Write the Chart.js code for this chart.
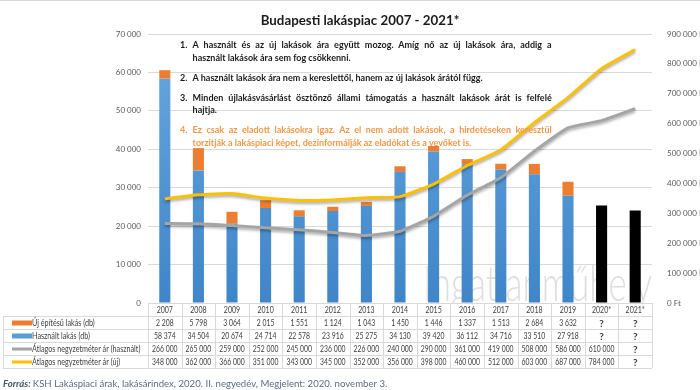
<!DOCTYPE html>
<html lang="hu">
<head>
<meta charset="utf-8">
<title>Budapesti lakáspiac 2007 - 2021*</title>
<script src="https://cdn.jsdelivr.net/npm/chart.js@4.4.1/dist/chart.umd.min.js"></script>
<style>
  body { margin: 0; background: #fff; }
  #wrap { position: relative; width: 700px; height: 390px; }
  #notes {
    position: absolute; left: 180px; top: 38px; width: 413px;
    transform: scaleX(0.9); transform-origin: 0 0;
    font: bold 10px Lato, sans-serif; color: #1a1a1a; line-height: 12.5px;
  }
  #notes .pont { position: relative; padding-left: 14px; }
  #notes .pont span.sz { position: absolute; left: 0; top: 0; }
  #notes .j { text-align: justify; text-align-last: justify; }
  #notes .narancs { color: #f79646; }
</style>
</head>
<body>
<div id="wrap">
  <canvas id="myChart" width="700" height="390"></canvas>
  <div id="notes">
    <div class="pont"><span class="sz">1.</span>
      <div class="j">A használt és az új lakások ára együtt mozog. Amíg nő az új lakások ára, addig a</div>
      <div>használt lakások ára sem fog csökkenni.</div>
    </div>
    <div class="pont" style="margin-top:7.5px"><span class="sz">2.</span>
      <div>A használt lakások ára nem a kereslettől, hanem az új lakások árától függ.</div>
    </div>
    <div class="pont" style="margin-top:7.5px"><span class="sz">3.</span>
      <div class="j">Minden újlakásvásárlást ösztönző állami támogatás a használt lakások árát is felfelé</div>
      <div>hajtja.</div>
    </div>
    <div class="pont narancs" style="margin-top:7.5px"><span class="sz">4.</span>
      <div class="j">Ez csak az eladott lakásokra igaz. Az el nem adott lakások, a hirdetéseken keresztül</div>
      <div>torzitják a lakáspiaci képet, dezinformálják az eladókat és a vevőket is.</div>
    </div>
  </div>
</div>
<script>
// Évek (a táblázat fejléce)
const evek = ['2007', '2008', '2009', '2010', '2011', '2012', '2013', '2014', '2015', '2016', '2017', '2018', '2019', '2020*', '2021*'];

// Eladott lakások (db)
const ujLakas = [2208, 5798, 3064, 2015, 1551, 1124, 1043, 1450, 1446, 1337, 1513, 2684, 3632, null, null];
const hasznaltLakas = [58374, 34504, 20674, 24714, 22578, 23916, 25275, 34130, 39420, 36112, 34716, 33510, 27918, null, null];
// 2020-2021 becslés (fekete oszlopok)
const becsultLakas = [null, null, null, null, null, null, null, null, null, null, null, null, null, 25400, 24100];

// Átlagos négyzetméterár (Ft)
const arHasznalt = [266000, 265000, 259000, 252000, 245000, 236000, 226000, 240000, 290000, 361000, 419000, 508000, 586000, 610000, 650000];
const arUj = [348000, 362000, 366000, 351000, 343000, 345000, 352000, 356000, 398000, 460000, 512000, 603000, 687000, 784000, 848000];
// a táblázatban ennyi év ára ismert (utána "?")
const arIsmertHasznalt = 14;
const arIsmertUj = 14;
const arTablaHasznalt = arHasznalt.map((v, i) => i < arIsmertHasznalt ? v : null);
const arTablaUj = arUj.map((v, i) => i < arIsmertUj ? v : null);

// Tengelyek
const balTengely = [0, 10000, 20000, 30000, 40000, 50000, 60000, 70000];
const jobbTengely = [0, 100000, 200000, 300000, 400000, 500000, 600000, 700000, 800000, 900000];

const szinKek = '#5b9bd5';
const szinNarancs = '#ed7d31';
const szinSzurke = '#a5a5a5';
const szinSarga = '#ffc000';

const ezres = (v) => String(v).replace(/\B(?=(\d{3})+(?!\d))/g, ' ');

// táblázat sorai: jelmagyarázat + értékek
const tablaSorok = [
    { cimke: 'Új építésű lakás (db)', szin: szinNarancs, tipus: 'bar', adat: ujLakas },
    { cimke: 'Használt lakás (db)', szin: szinKek, tipus: 'bar', adat: hasznaltLakas },
    { cimke: 'Átlagos negyzetméter ár (használt)', szin: szinSzurke, tipus: 'line', adat: arTablaHasznalt },
    { cimke: 'Átlagos negyzetméter ár (új)', szin: szinSarga, tipus: 'line', adat: arTablaUj }
];

const kekGradiens = (context) => {
    const area = context.chart.chartArea;
    if (!area) return szinKek;
    const g = context.chart.ctx.createLinearGradient(0, area.top, 0, area.bottom);
    g.addColorStop(0, '#6aa8e0');
    g.addColorStop(1, '#3f85c8');
    return g;
};

// keskenyebb (összenyomott) szöveg
const keskenyen = (ctx, t, x, y, k) => {
    const w = ctx.measureText(t).width;
    ctx.fillText(t, x, y, w * k);
};

// vízjel a sávok mögött
const vizjel = {
    id: 'vizjel',
    beforeDatasetsDraw(chart) {
        const ctx = chart.ctx;
        ctx.save();
        ctx.font = '300 50px Lato, sans-serif';
        ctx.fillStyle = '#dedede';
        ctx.textBaseline = 'alphabetic';
        ctx.textAlign = 'left';
        ctx.fillText('Ingatlanműhely', 423, 301, 229);
        ctx.restore();
    }
};

// vonalak árnyéka
const arnyek = {
    id: 'arnyek',
    beforeDatasetDraw(chart, args) {
        if (args.meta.type === 'line') {
            chart.ctx.save();
            chart.ctx.shadowColor = 'rgba(0,0,0,0.35)';
            chart.ctx.shadowBlur = 3;
            chart.ctx.shadowOffsetY = 2;
        }
    },
    afterDatasetDraw(chart, args) {
        if (args.meta.type === 'line') chart.ctx.restore();
    }
};

// cím, adattábla, forrás
const keret = {
    id: 'keret',
    afterDraw(chart) {
        const ctx = chart.ctx;
        const x = chart.scales.x;
        const area = chart.chartArea;
        const oszlop = (area.right - area.left) / evek.length;
        ctx.save();

        // felső szegély
        ctx.fillStyle = '#d9d9d9';
        ctx.fillRect(0, 0, 700, 1);

        // cím
        ctx.fillStyle = '#1a1a1a';
        ctx.font = 'bold 14px Lato, sans-serif';
        ctx.textAlign = 'center';
        ctx.textBaseline = 'alphabetic';
        keskenyen(ctx, 'Budapesti lakáspiac 2007 - 2021*', 360, 25, 0.95);

        // táblázat
        const top = area.bottom;
        const sorM = 13;
        const balSzel = 3;
        ctx.fillStyle = '#ffffff';
        ctx.fillRect(area.left, top + 1, area.right - area.left, sorM * (tablaSorok.length + 1));
        ctx.strokeStyle = '#d9d9d9';
        ctx.lineWidth = 1;
        ctx.beginPath();
        // fejléc sor
        ctx.moveTo(area.left, top + 0.5);
        ctx.lineTo(area.right, top + 0.5);
        for (let r = 1; r <= tablaSorok.length + 1; r++) {
            const y = Math.round(top + r * sorM) + 0.5;
            ctx.moveTo(balSzel, y);
            ctx.lineTo(area.right, y);
        }
        ctx.moveTo(balSzel + 0.5, top + sorM);
        ctx.lineTo(balSzel + 0.5, top + sorM * (tablaSorok.length + 1));
        for (let i = 0; i <= evek.length; i++) {
            const xx = Math.round(area.left + i * oszlop) + 0.5;
            ctx.moveTo(xx, top);
            ctx.lineTo(xx, top + sorM * (tablaSorok.length + 1));
        }
        ctx.stroke();

        ctx.font = '9px Lato, sans-serif';
        ctx.fillStyle = '#404040';
        ctx.textBaseline = 'middle';
        ctx.textAlign = 'center';
        evek.forEach((ev, i) => {
            keskenyen(ctx, ev, x.getPixelForValue(i), top + sorM / 2 + 0.5, 0.78);
        });

        tablaSorok.forEach((sor, r) => {
            const yk = top + sorM * (r + 1) + sorM / 2 + 0.5;
            // jelkulcs
            ctx.fillStyle = sor.szin;
            if (sor.tipus === 'bar') ctx.fillRect(12, yk - 2.5, 20, 5);
            else ctx.fillRect(12, yk - 1.5, 20, 3);
            ctx.fillStyle = '#404040';
            ctx.font = '9px Lato, sans-serif';
            ctx.textAlign = 'left';
            keskenyen(ctx, sor.cimke, 32, yk, 0.8);
            ctx.textAlign = 'center';
            sor.adat.forEach((v, i) => {
                const cx = x.getPixelForValue(i);
                if (v === null) {
                    ctx.font = 'bold 10px Lato, sans-serif';
                    ctx.fillStyle = '#3a3a3a';
                    ctx.fillText('?', cx, yk + 0.5);
                    ctx.font = '9px Lato, sans-serif';
                    ctx.fillStyle = '#404040';
                } else {
                    keskenyen(ctx, ezres(v), cx, yk, 0.76);
                }
            });
        });

        // forrás
        ctx.textAlign = 'left';
        ctx.textBaseline = 'alphabetic';
        ctx.fillStyle = '#44546a';
        ctx.font = 'italic bold 10px Lato, sans-serif';
        keskenyen(ctx, 'Forrás:', 3, 387, 0.96);
        const w = ctx.measureText('Forrás: ').width * 0.96;
        ctx.font = '10px Lato, sans-serif';
        ctx.fillStyle = '#5b6b80';
        keskenyen(ctx, 'KSH Lakáspiaci árak, lakásárindex, 2020. II. negyedév, Megjelent: 2020. november 3.', 3 + w, 387, 0.96);
        ctx.restore();
    }
};

const ctx = document.getElementById('myChart').getContext('2d');
const myChart = new Chart(ctx, {
    type: 'bar',
    data: {
        labels: evek,
        datasets: [
            {
                label: 'Használt lakás (db)',
                data: hasznaltLakas,
                backgroundColor: kekGradiens,
                yAxisID: 'y',
                order: 2,
                categoryPercentage: 1,
                barPercentage: 0.33
            },
            {
                label: 'Új építésű lakás (db)',
                data: ujLakas,
                backgroundColor: szinNarancs,
                yAxisID: 'y',
                order: 2,
                categoryPercentage: 1,
                barPercentage: 0.33
            },
            {
                label: 'Becslés',
                data: becsultLakas,
                backgroundColor: '#000000',
                yAxisID: 'y',
                order: 2,
                categoryPercentage: 1,
                barPercentage: 0.33
            },
            {
                type: 'line',
                label: 'Átlagos negyzetméter ár (használt)',
                data: arHasznalt,
                borderColor: szinSzurke,
                borderWidth: 3,
                pointRadius: 0,
                tension: 0.15,
                yAxisID: 'y1',
                order: 1
            },
            {
                type: 'line',
                label: 'Átlagos negyzetméter ár (új)',
                data: arUj,
                borderColor: szinSarga,
                borderWidth: 3,
                pointRadius: 0,
                tension: 0.15,
                yAxisID: 'y1',
                order: 0
            }
        ]
    },
    options: {
        responsive: false,
        devicePixelRatio: 1,
        animation: false,
        layout: { padding: { top: 34, bottom: 87, left: 0, right: 0 } },
        plugins: {
            legend: { display: false },
            title: { display: false },
            tooltip: { enabled: false }
        },
        scales: {
            x: {
                display: false,
                stacked: true
            },
            y: {
                stacked: true,
                min: 0,
                max: 70000,
                afterBuildTicks: (scale) => { scale.ticks = balTengely.map(v => ({ value: v })); },
                afterFit: (scale) => { scale.width = 148; },
                grid: { color: '#d9d9d9', drawTicks: false },
                border: { display: false },
                ticks: {
                    padding: 7,
                    color: '#595959',
                    font: { family: 'Lato', size: 8 },
                    callback: (v) => ezres(v)
                }
            },
            y1: {
                position: 'right',
                min: 0,
                max: 900000,
                afterBuildTicks: (scale) => { scale.ticks = jobbTengely.map(v => ({ value: v })); },
                afterFit: (scale) => { scale.width = 48; },
                grid: { display: false },
                border: { display: false },
                ticks: {
                    padding: 7,
                    color: '#595959',
                    font: { family: 'Lato', size: 8 },
                    callback: (v) => ezres(v) + ' Ft'
                }
            }
        }
    },
    plugins: [vizjel, arnyek, keret]
});
</script>
</body>
</html>
